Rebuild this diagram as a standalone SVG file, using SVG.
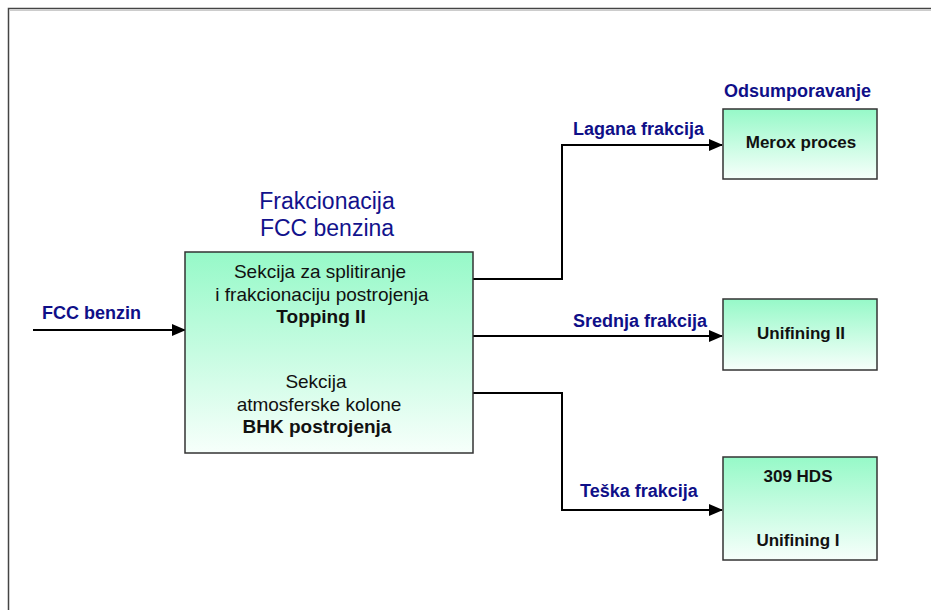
<svg xmlns="http://www.w3.org/2000/svg" width="931" height="610" viewBox="0 0 931 610">
  <defs>
    <linearGradient id="g" x1="0" y1="0" x2="0" y2="1">
      <stop offset="0" stop-color="#96F9C8"/>
      <stop offset="1" stop-color="#F7FFFB"/>
    </linearGradient>
    <marker id="arr" markerWidth="14" markerHeight="12" refX="13" refY="6" orient="auto" markerUnits="userSpaceOnUse">
      <path d="M0,0 L14,6 L0,12 Z" fill="#000"/>
    </marker>
    <style>
      .box{fill:url(#g);stroke:#333;stroke-width:1.5}
      .conn{fill:none;stroke:#000;stroke-width:2;marker-end:url(#arr)}
      .lbl{font-family:"Liberation Sans",Arial,sans-serif;font-weight:bold;font-size:18px;fill:#0F0F88}
      .bt{font-family:"Liberation Sans",Arial,sans-serif;font-weight:bold;font-size:17px;fill:#111;text-anchor:middle}
      .mt{font-family:"Liberation Sans",Arial,sans-serif;font-size:19px;fill:#111;text-anchor:middle}
      .mtb{font-family:"Liberation Sans",Arial,sans-serif;font-size:19px;font-weight:bold;fill:#111;text-anchor:middle}
      .title{font-family:"Liberation Sans",Arial,sans-serif;font-size:23px;fill:#12128C;text-anchor:middle}
    </style>
  </defs>
  <rect x="0" y="0" width="931" height="610" fill="#fff"/>
  <rect x="8.5" y="8.5" width="940" height="620" fill="none" stroke="#444" stroke-width="1.5"/>
  <line x1="10" y1="10.5" x2="931" y2="10.5" stroke="#ccc" stroke-width="1"/>

  <g id="connectors">
    <path class="conn" d="M33,330 L185,330"/>
    <path class="conn" d="M473,279 L562,279 L562,145 L722,145"/>
    <path class="conn" d="M473,336 L722,336"/>
    <path class="conn" d="M473,393 L562,393 L562,510 L722,510"/>
    <text class="lbl" x="42" y="319">FCC benzin</text>
    <text class="lbl" x="573" y="135">Lagana frakcija</text>
    <text class="lbl" x="573" y="327">Srednja frakcija</text>
    <text class="lbl" x="580" y="497">Teška frakcija</text>
  </g>

  <g id="main">
    <text class="title" x="327" y="209">Frakcionacija</text>
    <text class="title" x="327" y="236">FCC benzina</text>
    <rect class="box" x="185" y="252" width="288" height="201"/>
    <text class="mt" x="320" y="278">Sekcija za splitiranje</text>
    <text class="mt" x="322" y="301">i frakcionaciju postrojenja</text>
    <text class="mtb" x="321" y="323">Topping II</text>
    <text class="mt" x="316" y="388">Sekcija</text>
    <text class="mt" x="319" y="411">atmosferske kolone</text>
    <text class="mtb" x="317" y="433">BHK postrojenja</text>
  </g>

  <g id="merox">
    <text class="lbl" x="724" y="97">Odsumporavanje</text>
    <rect class="box" x="723" y="109" width="154" height="70"/>
    <text class="bt" x="801" y="148">Merox proces</text>
  </g>

  <g id="unifining2">
    <rect class="box" x="723" y="299" width="154" height="71"/>
    <text class="bt" x="801" y="339">Unifining II</text>
  </g>

  <g id="hds">
    <rect class="box" x="723" y="457" width="154" height="103"/>
    <text class="bt" x="798" y="482">309 HDS</text>
    <text class="bt" x="798" y="546">Unifining I</text>
  </g>
</svg>
